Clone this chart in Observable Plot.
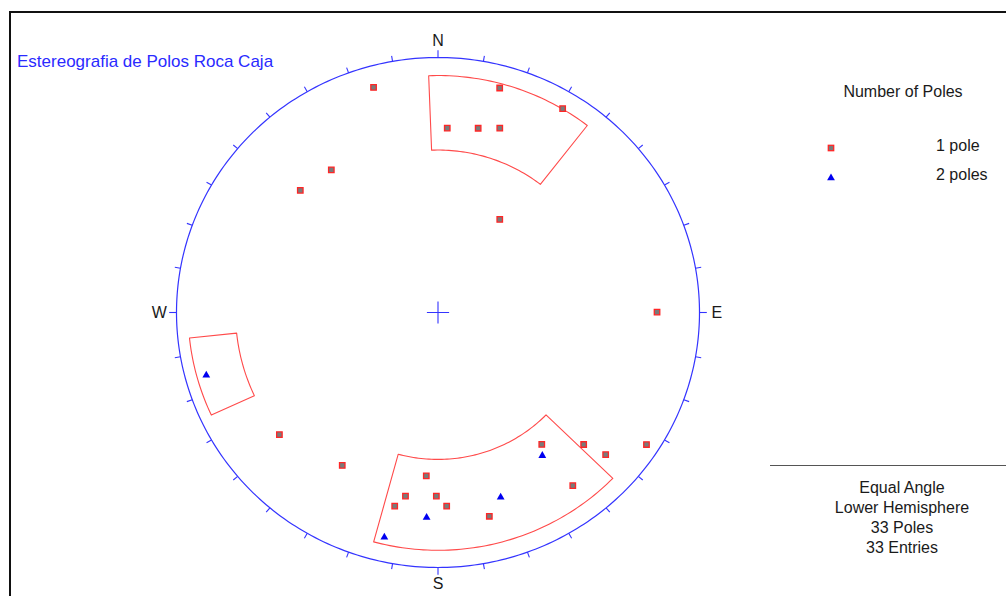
<!DOCTYPE html>
<html>
<head>
<meta charset="utf-8">
<script src="https://cdn.jsdelivr.net/npm/d3@7"></script>
<script src="https://cdn.jsdelivr.net/npm/@observablehq/plot@0.6"></script>
<style>
  html, body { margin: 0; padding: 0; background: #fff; overflow: hidden; }
  #wrap { position: relative; width: 1006px; height: 596px; font-family: "Liberation Sans", Arial, sans-serif; }
  #wrap svg.plot { position: absolute; left: 0; top: 0; }
  .frame { position: absolute; left: 9px; top: 11px; width: 1200px; height: 800px; border-left: 2px solid #111; border-top: 2px solid #111; }
  .t { position: absolute; white-space: nowrap; line-height: 18px; height: 18px; color: #1a1a1a; font-size: 16px; }
  .c { transform: translateX(-50%); }
  .rule { position: absolute; left: 770px; top: 465px; width: 240px; height: 0; border-top: 1.4px solid #555; }
  .mk { position: absolute; }
</style>
</head>
<body>
<div id="wrap">
  <div class="frame"></div>
</div>
<script>
// ---- Data ----
// Poles plotted as single poles (squares): trend / plunge in degrees
const onePoleTrend  = [344.4, 15.0, 30.8, 2.8, 12.0, 18.1, 32.9, 323.9, 312.3, 89.9, 231.7, 211.4, 123.0, 142.5, 132.9, 131.0, 142.8, 184.0, 189.8, 180.5, 192.3, 177.5, 166.2];
const onePolePlunge = [5.0, 5.3, 4.1, 18.2, 17.1, 15.5, 43.0, 20.6, 19.1, 10.1, 14.6, 19.8, 2.9, 23.8, 15.5, 9.3, 9.1, 24.6, 17.7, 18.5, 14.3, 15.5, 11.1];
// Locations with two coincident poles (triangles)
const twoPoleTrend  = [144.6, 161.7, 183.1, 193.1, 254.5];
const twoPolePlunge = [20.9, 15.3, 12.3, 5.7, 4.8];
// Set windows: trend range and plunge range
const windowName      = ["Set N", "Set W", "Set S"];
const windowTrendFrom = [357.8, 245.1, 134.2];
const windowTrendTo   = [37.9, 264.0, 195.3];
const windowPlungeMin = [4.2, 2.6, 4.0];
const windowPlungeMax = [25.0, 14.5, 30.1];
// Compass labels and tick spacing
const cardinalLabels = ["N", "E", "S", "W"];
const cardinalTrends = [0, 90, 180, 270];
const tickTrends = d3.range(0, 360, 10);
// Legend / info text
const legendTitle = "Number of Poles";
const legendLabels = ["1 pole", "2 poles"];
const infoLines = ["Equal Angle", "Lower Hemisphere", "33 Poles", "33 Entries"];
const chartTitle = "Estereografia de Polos Roca Caja";

// ---- Equal-angle (stereographic) lower-hemisphere projection ----
const rad = Math.PI / 180;
function proj(trend, plunge) {
  const r = Math.tan((90 - plunge) / 2 * rad);
  return {x: r * Math.sin(trend * rad), y: r * Math.cos(trend * rad)};
}

const ones = onePoleTrend.map((t, i) => ({...proj(t, onePolePlunge[i]), trend: t, plunge: onePolePlunge[i]}));
const twos = twoPoleTrend.map((t, i) => ({...proj(t, twoPolePlunge[i]), trend: t, plunge: twoPolePlunge[i]}));

const circle = d3.range(0, 361, 1).map(a => proj(a, 0));

const windowPts = [];
windowName.forEach((name, i) => {
  let t1 = windowTrendFrom[i], t2 = windowTrendTo[i];
  if (t2 < t1) t2 += 360;
  const n = Math.max(8, Math.ceil(t2 - t1));
  const outer = d3.range(n + 1).map(k => proj(t1 + (t2 - t1) * k / n, windowPlungeMin[i]));
  const inner = d3.range(n + 1).map(k => proj(t2 - (t2 - t1) * k / n, windowPlungeMax[i]));
  [...outer, ...inner, outer[0]].forEach(p => windowPts.push({...p, name}));
});

const ticks = tickTrends.map(t => {
  const card = t % 90 === 0;
  const k = card ? 1.028 : 1.022;
  return {x1: Math.sin(t * rad), y1: Math.cos(t * rad), x2: k * Math.sin(t * rad), y2: k * Math.cos(t * rad)};
});
const labels = cardinalLabels.map((l, i) => ({label: l, x: 1.066 * Math.sin(cardinalTrends[i] * rad), y: 1.064 * Math.cos(cardinalTrends[i] * rad)}));

const blue = "#3434ff";
const chart = Plot.plot({
  width: 1006, height: 596,
  marginLeft: 176, marginRight: 307, marginTop: 57, marginBottom: 29,
  x: {domain: [-1, 1], axis: null},
  y: {domain: [-1, 1], axis: null},
  style: {background: "transparent", fontFamily: "Liberation Sans, Arial, sans-serif"},
  marks: [
    Plot.line(windowPts, {x: "x", y: "y", z: "name", stroke: "#ff4a4a", strokeWidth: 1.1, curve: "linear"}),
    Plot.line(circle, {x: "x", y: "y", stroke: blue, strokeWidth: 1.2}),
    Plot.link(ticks, {x1: "x1", y1: "y1", x2: "x2", y2: "y2", stroke: blue, strokeWidth: 1.1}),
    Plot.dot([{x: 0, y: 0}], {x: "x", y: "y", symbol: "plus", r: 7.2, stroke: blue, strokeWidth: 1.1}),
    Plot.text(labels, {x: "x", y: "y", text: "label", fontSize: 16, fill: "#1a1a1a"}),
    Plot.dot(ones, {x: "x", y: "y", symbol: "square", r: 3.1, fill: "#7a7a7a", stroke: "#ff2626", strokeWidth: 1.3}),
    Plot.dot(twos, {x: "x", y: "y", symbol: "triangle", r: 2.9, fill: "#0000f0", stroke: "none"})
  ]
});
const wrap = document.getElementById("wrap");
wrap.appendChild(chart);

function addText(txt, left, centerY, cls, extra) {
  const d = document.createElement("div");
  d.className = "t " + (cls || "");
  d.textContent = txt;
  d.style.left = left + "px";
  d.style.top = (centerY - 9) + "px";
  if (extra) Object.assign(d.style, extra);
  wrap.appendChild(d);
}
addText(chartTitle, 17, 62, "", {color: "#2a2aff", fontSize: "17px"});
addText(legendTitle, 903, 92, "c");
addText(legendLabels[0], 936, 146);
addText(legendLabels[1], 936, 175);
infoLines.forEach((l, i) => addText(l, 902, 487.5 + i * 20, "c"));

const rule = document.createElement("div");
rule.className = "rule";
wrap.appendChild(rule);

function addMarker(svg, cx, cy) {
  const d = document.createElement("div");
  d.className = "mk";
  d.style.left = (cx - 6) + "px";
  d.style.top = (cy - 6) + "px";
  d.innerHTML = `<svg width="12" height="12" viewBox="-6 -6 12 12">${svg}</svg>`;
  wrap.appendChild(d);
}
addMarker('<rect x="-2.7" y="-2.7" width="5.4" height="5.4" fill="#7a7a7a" stroke="#ff2626" stroke-width="1.3"/>', 830.5, 146);
addMarker('<path d="' + d3.symbol(d3.symbolTriangle, Math.PI * 2.9 * 2.9)() + '" fill="#0000f0"/>', 830.5, 176);
</script>
</body>
</html>
